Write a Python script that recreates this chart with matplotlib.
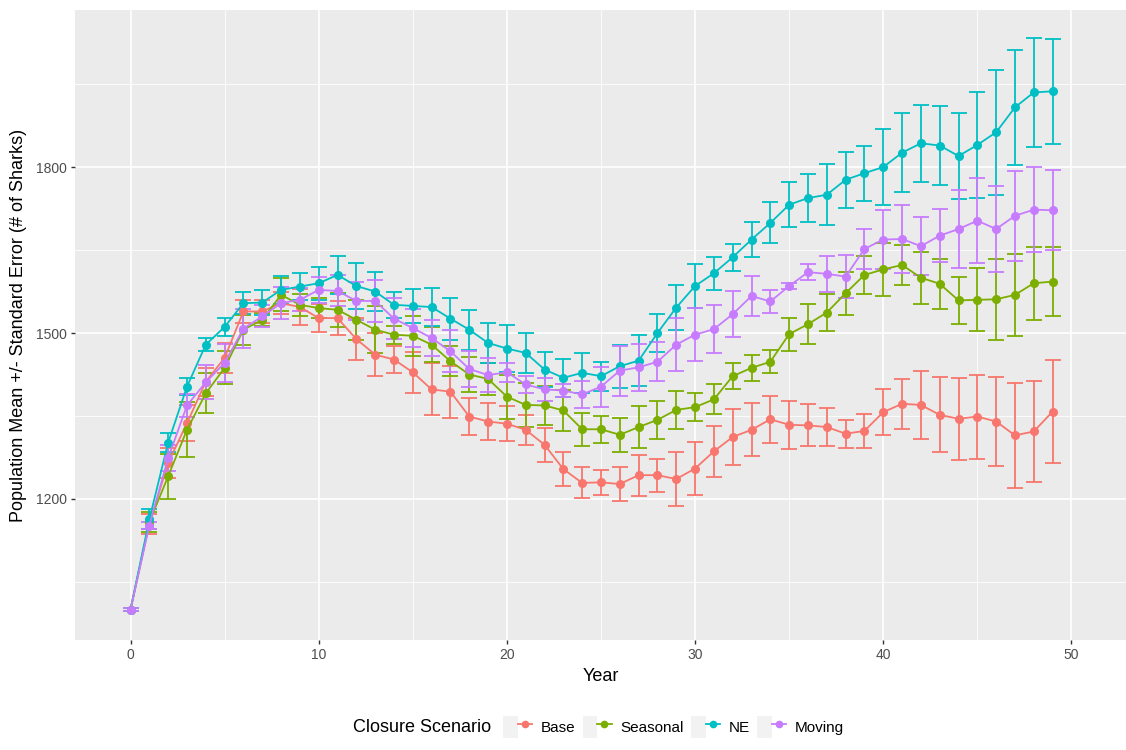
import numpy as np
import matplotlib
matplotlib.use("Agg")
import matplotlib.pyplot as plt
from matplotlib.lines import Line2D
from matplotlib.patches import Patch
from matplotlib.legend_handler import HandlerTuple

#### data ####
years = list(range(50))

base_mean = [1000, 1155, 1265, 1337, 1412, 1455, 1539, 1539, 1554, 1547,
             1527, 1527, 1489, 1461, 1452, 1429, 1398, 1394, 1349, 1340,
             1336, 1325, 1298, 1254, 1229, 1230, 1227, 1243, 1243, 1236,
             1255, 1286, 1312, 1325, 1344, 1334, 1333, 1330, 1318, 1323,
             1357, 1372, 1370, 1352, 1345, 1349, 1340, 1315, 1322, 1358]
base_se = [3, 18, 28, 33, 25, 27, 20, 20, 20, 33,
           25, 30, 38, 39, 24, 37, 47, 47, 34, 33,
           32, 27, 31, 31, 28, 23, 30, 37, 30, 48,
           48, 46, 50, 48, 42, 43, 38, 35, 25, 30,
           42, 45, 61, 68, 74, 76, 81, 95, 92, 93]

seasonal_mean = [1000, 1158, 1241, 1325, 1391, 1437, 1506, 1524, 1569, 1551,
                 1545, 1542, 1524, 1506, 1497, 1495, 1479, 1449, 1425, 1417,
                 1385, 1370, 1369, 1360, 1326, 1326, 1316, 1330, 1343, 1361,
                 1366, 1380, 1422, 1437, 1448, 1498, 1516, 1537, 1572, 1605,
                 1615, 1623, 1600, 1589, 1559, 1560, 1561, 1569, 1590, 1593]
seasonal_se = [3, 18, 41, 50, 36, 30, 27, 12, 30, 20,
               18, 31, 36, 42, 16, 36, 32, 27, 31, 29,
               40, 40, 36, 37, 30, 24, 31, 38, 35, 35,
               25, 27, 24, 24, 21, 30, 36, 33, 39, 35,
               48, 37, 47, 45, 42, 57, 73, 74, 66, 62]

ne_mean = [1000, 1163, 1302, 1403, 1479, 1511, 1554, 1555, 1578, 1584,
           1590, 1605, 1585, 1575, 1551, 1549, 1547, 1526, 1506, 1482,
           1472, 1464, 1434, 1419, 1428, 1422, 1440, 1450, 1500, 1546,
           1585, 1608, 1637, 1669, 1699, 1732, 1744, 1750, 1777, 1789,
           1800, 1826, 1843, 1839, 1820, 1840, 1863, 1908, 1935, 1937]
ne_se = [3, 18, 18, 15, 12, 17, 20, 23, 25, 24,
         30, 35, 42, 36, 24, 30, 35, 38, 36, 36,
         42, 36, 32, 34, 36, 26, 39, 46, 35, 40,
         40, 30, 24, 32, 37, 41, 44, 55, 51, 50,
         68, 71, 70, 72, 77, 95, 113, 104, 98, 95]

moving_mean = [1000, 1152, 1274, 1369, 1411, 1446, 1508, 1530, 1554, 1560,
               1578, 1576, 1558, 1558, 1526, 1509, 1491, 1467, 1435, 1424,
               1429, 1407, 1398, 1396, 1389, 1403, 1432, 1438, 1448, 1479,
               1497, 1507, 1534, 1567, 1557, 1585, 1610, 1607, 1602, 1652,
               1669, 1670, 1657, 1676, 1688, 1703, 1688, 1712, 1723, 1722]
moving_se = [3, 7, 23, 21, 31, 34, 35, 20, 29, 21,
             23, 28, 35, 38, 37, 35, 33, 38, 33, 31,
             17, 15, 21, 12, 24, 36, 45, 43, 35, 48,
             48, 44, 42, 36, 20, 5, 14, 32, 39, 36,
             53, 61, 53, 48, 71, 77, 77, 81, 77, 72]

scenarios = ["Base", "Seasonal", "NE", "Moving"]
means = [base_mean, seasonal_mean, ne_mean, moving_mean]
errors = [base_se, seasonal_se, ne_se, moving_se]
colors = ["#F8766D", "#7CAE00", "#00BFC4", "#C77CFF"]  # ggplot hue palette

plt.rcParams["font.family"] = ["Liberation Sans", "DejaVu Sans"]

W, H = 1126, 750
fig = plt.figure(figsize=(W / 100, H / 100), dpi=100)
# panel placed in pixel terms
ax = fig.add_axes([75 / W, 110 / H, (W - 75) / W, 630 / H])
ax.set_facecolor("#EBEBEB")
for s in ax.spines.values():
    s.set_visible(False)

##### series #####
for name, m, e, c in zip(scenarios, means, errors, colors):
    ax.errorbar(years, m, yerr=e, color=c, lw=1.3, marker="o", ms=5.5,
                elinewidth=1.3, capsize=6, capthick=1.3, label=name)

##### axes / grid #####
ax.set_xlim(-2.95, 52.9)
ax.set_ylim(945, 2084)
ax.set_xticks([0, 10, 20, 30, 40, 50])
ax.set_xticks([5, 15, 25, 35, 45], minor=True)
ax.set_yticks([1200, 1500, 1800])
ax.set_yticks([1050, 1350, 1650, 1950], minor=True)
ax.grid(which="major", color="white", lw=1.2)
ax.grid(which="minor", color="white", lw=0.6)
ax.set_axisbelow(True)
ax.tick_params(which="major", length=3, width=1, color="#333333",
               labelsize=10, labelcolor="#4D4D4D", pad=3)
ax.tick_params(which="minor", length=0)

ax.set_xlabel("Year", fontsize=13, labelpad=4)
ax.set_ylabel("Population Mean +/- Standard Error (# of Sharks)", fontsize=13, labelpad=6)

##### legend at bottom, title on the left #####
fig.text(353 / W, 1 - 727 / H, "Closure Scenario", fontsize=13,
         ha="left", va="center")
handles = [(Patch(facecolor="#F2F2F2", edgecolor="none"),
            Line2D([], [], color=c, lw=1.3, marker="o", ms=4.5)) for c in colors]
fig.legend(handles, scenarios, handler_map={tuple: HandlerTuple(ndivide=None)},
           loc="center left", bbox_to_anchor=(503 / W, 1 - 727 / H), ncol=4,
           frameon=False, fontsize=11, handlelength=1.9, handleheight=1.9,
           handletextpad=0.55, columnspacing=0.5, borderpad=0, borderaxespad=0)

fig.savefig("out.png", dpi=100)
